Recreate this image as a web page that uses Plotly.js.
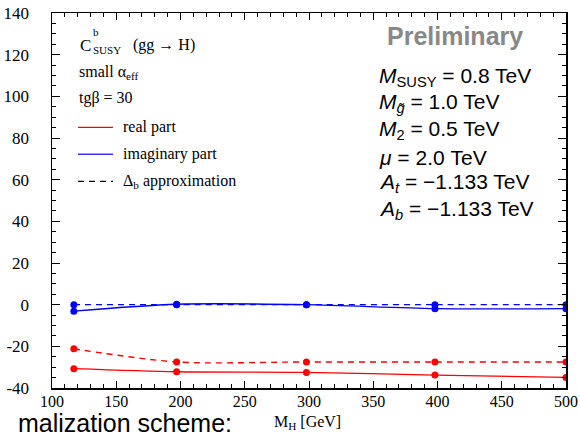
<!DOCTYPE html>
<html><head><meta charset="utf-8">
<script src="https://cdn.plot.ly/plotly-3.0.1.min.js"></script>
<style>html,body{margin:0;padding:0;background:#fff}#c{width:580px;height:442px}</style>
</head><body><div id="c"></div>
<script>
var mh = [117, 197, 298, 398, 500];
var realFull = [-30.7, -32.2, -32.5, -33.8, -34.9];
var realApprox = [-21.2, -27.5, -27.5, -27.5, -27.5];
var imagFull = [-3.1, 0.2, 0.0, -1.9, -1.9];
var imagApprox = [0, 0, 0, 0, 0];
var xTicks = [100, 150, 200, 250, 300, 350, 400, 450, 500];
var yTicks = [-40, -20, 0, 20, 40, 60, 80, 100, 120, 140];

var W = 580, H = 442, L = 52, R = 14, T = 12.5, B = 54;
var pw = W - L - R, ph = H - T - B;
function px(x){return (x - L)/pw;}
function py(y){return 1 - (y - T)/ph;}

function tr(y, color, dash){
  return {x: mh, y: y, mode: 'lines+markers', type: 'scatter',
    line: {color: color, width: 1.4, dash: dash, shape: 'spline', smoothing: 0.8},
    marker: {color: color, size: 7}, showlegend: false, hoverinfo: 'skip'};
}
var data = [
  tr(realFull, '#ff0000', 'solid'),
  tr(realApprox, '#ff0000', '6px,5px'),
  tr(imagFull, '#0000ff', 'solid'),
  tr(imagApprox, '#0000ff', '6px,5px')
];

var serif = "'Liberation Serif', 'Times New Roman', serif";
var sans = "'Liberation Sans', Arial, sans-serif";
function ann(text, x, y, size, family, opts){
  var a = {text: text, x: px(x), y: py(y), xref: 'paper', yref: 'paper',
    xanchor: 'left', yanchor: 'middle', showarrow: false,
    font: {family: family, size: size, color: '#000'}};
  if (opts) for (var k in opts) { if (k === 'font') { for (var f in opts.font) a.font[f] = opts.font[f]; } else a[k] = opts[k]; }
  return a;
}
var EQ = ' = ';
var annotations = [
  ann('C', 78, 45, 17, serif),
  ann('b', 91, 32, 11, serif),
  ann('SUSY', 91, 50, 11, serif),
  ann('(gg → H)', 131, 45, 16, serif),
  ann('small α<sub>eff</sub>', 77, 72, 16, serif),
  ann('tgβ = 30', 77, 98, 16, serif),
  ann('real part', 121, 127, 16, serif),
  ann('imaginary part', 121, 154, 16, serif),
  ann('Δ<sub>b</sub> approximation', 121, 181, 16, serif),
  ann('<b>Preliminary</b>', 385, 36, 25, sans, {font: {color: '#888888'}}),
  ann('<i>M</i><sub>SUSY</sub>' + EQ + '0.8 TeV', 377, 77, 21, sans),
  ann('<i>M</i><sub><i>g̃</i></sub>' + EQ + '1.0 TeV', 377, 103, 21, sans),
  ann('<i>M</i><sub>2</sub>' + EQ + '0.5 TeV', 377, 130, 21, sans),
  ann('<i>μ</i>' + EQ + '2.0 TeV', 377, 157, 21, sans),
  ann('<i>A</i><sub><i>t</i></sub>' + EQ + '−1.133 TeV', 377, 183, 21, sans),
  ann('<i>A</i><sub><i>b</i></sub>' + EQ + '−1.133 TeV', 377, 210, 21, sans),
  ann('malization scheme:', 234, 423, 25, sans, {xanchor: 'right'}),
  ann('M<sub>H</sub> [GeV]', 272, 423, 16, serif)
];
var shapes = [
  {type: 'line', xref: 'paper', yref: 'paper', x0: px(78), x1: px(113), y0: py(127), y1: py(127), line: {color: '#ff0000', width: 1.2}},
  {type: 'line', xref: 'paper', yref: 'paper', x0: px(78), x1: px(113), y0: py(154), y1: py(154), line: {color: '#3333ff', width: 1.4}},
  {type: 'line', xref: 'paper', yref: 'paper', x0: px(78), x1: px(113), y0: py(181), y1: py(181), line: {color: '#000', width: 1.2, dash: '6px,5px'}}
];

var layout = {
  width: W, height: H,
  margin: {l: L, r: R, t: T, b: B, pad: 0},
  paper_bgcolor: '#fff', plot_bgcolor: '#fff',
  font: {family: serif, size: 15, color: '#000'},
  xaxis: {range: [100, 500], tickvals: xTicks, ticktext: xTicks.map(String),
    ticks: 'inside', ticklen: 7, tickwidth: 1, tickcolor: '#000',
    minor: {dtick: 10, tick0: 100, ticks: 'inside', ticklen: 4, tickwidth: 1, tickcolor: '#000'},
    showline: true, linecolor: '#000', linewidth: 1.5, mirror: 'allticks',
    showgrid: false, zeroline: false, tickfont: {family: serif, size: 16}, ticklabelstandoff: -2},
  yaxis: {range: [-40, 140], tickvals: yTicks, ticktext: yTicks.map(String),
    ticks: 'inside', ticklen: 8, tickwidth: 1, tickcolor: '#000',
    minor: {dtick: 5, tick0: 0, ticks: 'inside', ticklen: 4, tickwidth: 1, tickcolor: '#000'},
    showline: true, linecolor: '#000', linewidth: 1.5, mirror: 'allticks',
    showgrid: false, zeroline: false, tickfont: {family: serif, size: 17}, ticklabelstandoff: 18},
  annotations: annotations, shapes: shapes
};
Plotly.newPlot('c', data, layout, {displayModeBar: false, staticPlot: true});
</script></body></html>
